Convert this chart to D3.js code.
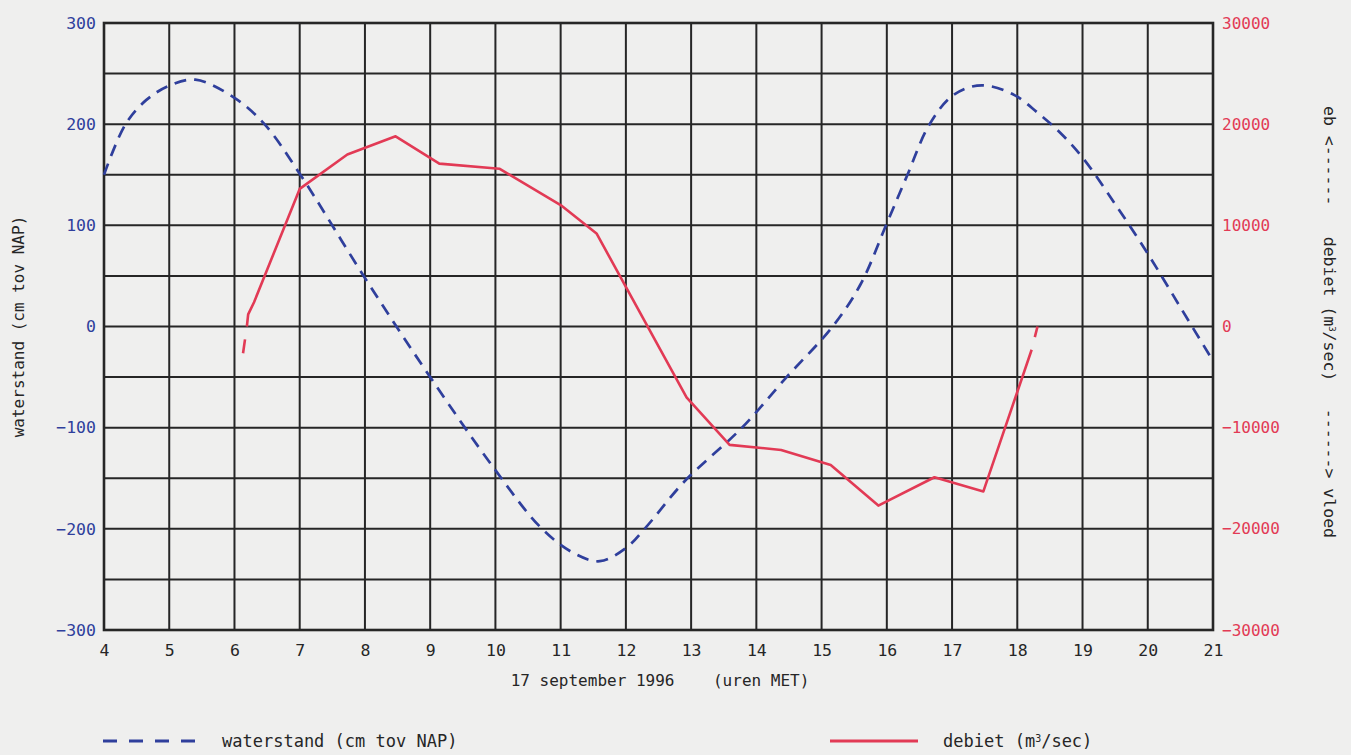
<!DOCTYPE html>
<html><head><meta charset="utf-8">
<script src="https://cdn.jsdelivr.net/npm/d3@7"></script>
<style>
html,body{margin:0;padding:0;background:#efefee;}
svg{display:block;font-family:"DejaVu Sans Mono",monospace;}
</style></head>
<body><svg id="c" width="1351" height="755"></svg>
<script>
// ---- data ----
const hourTicks = [4,5,6,7,8,9,10,11,12,13,14,15,16,17,18,19,20,21];
const leftTicks = [-300,-200,-100,0,100,200,300];
const rightTicks = [-30000,-20000,-10000,0,10000,20000,30000];
const gridLevels = [-250,-200,-150,-100,-50,0,50,100,150,200,250];
// waterstand (cm tov NAP): hour, value
const waterHours = [4,4.33,4.65,5,5.4,6,6.46,7,8,9,10,10.7,11.2,11.6,12,12.3,12.9,13.78,14.45,15.17,15.6,16,16.31,16.63,16.95,17.24,17.54,17.95,18.3,18.65,19,19.5,20,20.5,21];
const waterValues = [150,200,224,238,244,226,200,151,48,-50,-142,-199,-224,-232,-219,-199,-153,-100,-51,0,42,102,149,197,225,236,238,229,212,192,167,121,72,19,-34];
// debiet (m3/sec): hour, value
const flowHours = [6.19,6.21,6.3,7.0,7.73,8.47,9.14,10.06,11.0,11.55,12.93,13.59,14.38,15.14,15.87,16.73,17.48,18.22];
const flowValues = [0,1200,2400,13600,17000,18800,16100,15600,12000,9200,-7000,-11700,-12200,-13700,-17700,-14900,-16300,-2300];
const flowStartHours = [6.19,6.13];
const flowStartValues = [0,-2700];
const flowEndHours = [18.22,18.31];
const flowEndValues = [-2300,0];

const blue = "#2f3f9c", red = "#e23a55", ink = "#262626";
const svg = d3.select("#c");
const x = d3.scaleLinear().domain([4,21]).range([104,1213]);
const y = d3.scaleLinear().domain([-300,300]).range([630,23]);
const y2 = d3.scaleLinear().domain([-30000,30000]).range([630,23]);

// grid
const g = svg.append("g");
g.selectAll("line.v").data(hourTicks.slice(1,-1)).join("line")
  .attr("x1",d=>x(d)).attr("x2",d=>x(d)).attr("y1",y(300)).attr("y2",y(-300))
  .attr("stroke",ink).attr("stroke-width",2);
g.selectAll("line.h").data(gridLevels).join("line")
  .attr("y1",d=>y(d)).attr("y2",d=>y(d)).attr("x1",x(4)).attr("x2",x(21))
  .attr("stroke",ink).attr("stroke-width",2);
g.append("rect").attr("x",x(4)).attr("y",y(300)).attr("width",x(21)-x(4)).attr("height",y(-300)-y(300))
  .attr("fill","none").attr("stroke",ink).attr("stroke-width",2.6);

// axes
const ax = svg.append("g").attr("transform",`translate(0,${y(-300)})`)
  .call(d3.axisBottom(x).tickValues(hourTicks).tickSize(0).tickPadding(14).tickFormat(d3.format("d")));
ax.select(".domain").remove();
ax.selectAll("text").attr("fill",ink).style("font-size","16.5px").style("font-family","DejaVu Sans Mono");

const al = svg.append("g").attr("transform",`translate(${x(4)},0)`)
  .call(d3.axisLeft(y).tickValues(leftTicks).tickSize(0).tickPadding(8).tickFormat(d3.format("d")));
al.select(".domain").remove();
al.selectAll("text").attr("fill",blue).style("font-size","16.5px").style("font-family","DejaVu Sans Mono");

const ar = svg.append("g").attr("transform",`translate(${x(21)},0)`)
  .call(d3.axisRight(y2).tickValues(rightTicks).tickSize(0).tickPadding(9).tickFormat(d3.format("d")));
ar.select(".domain").remove();
ar.selectAll("text").attr("fill",red).style("font-size","16px").style("font-family","DejaVu Sans Mono");

// lines
const wData = waterHours.map((h,i)=>[h,waterValues[i]]);
const fData = flowHours.map((h,i)=>[h,flowValues[i]]);
const fs = flowStartHours.map((h,i)=>[h,flowStartValues[i]]);
const fe = flowEndHours.map((h,i)=>[h,flowEndValues[i]]);
const lw = d3.line().x(d=>x(d[0])).y(d=>y(d[1])).curve(d3.curveCatmullRom.alpha(0.5));
const lf = d3.line().x(d=>x(d[0])).y(d=>y2(d[1]));
svg.append("path").attr("d",lw(wData)).attr("fill","none").attr("stroke",blue)
  .attr("stroke-width",2.7).attr("stroke-dasharray","12,8");
svg.append("path").attr("d",lf(fData)).attr("fill","none").attr("stroke",red)
  .attr("stroke-width",2.6).attr("stroke-linejoin","round");
[fs,fe].forEach(seg=>{
  svg.append("path").attr("d",lf(seg)).attr("fill","none").attr("stroke",red)
    .attr("stroke-width",2.6).attr("stroke-dasharray","0,13,14,100");
});

// axis titles
svg.append("text").attr("transform",`translate(24,${y(0)}) rotate(-90)`)
  .attr("text-anchor","middle").attr("fill",ink).style("font-size","16px")
  .text("waterstand (cm tov NAP)");
svg.append("text").attr("x",660).attr("y",686).attr("text-anchor","middle")
  .attr("fill",ink).style("font-size","16px").attr("xml:space","preserve")
  .style("white-space","pre").text("17 september 1996    (uren MET)");

// right title pieces
const rt = svg.append("g").attr("transform","translate(1324,0)");
function rtext(yPos, anchor){
  return rt.append("text").attr("transform",`translate(0,${yPos}) rotate(90)`)
    .attr("text-anchor",anchor).attr("fill",ink).style("font-size","16.5px");
}
rtext(106,"start").text("eb <------");
const mid = rtext(309,"middle");
mid.append("tspan").text("debiet (m");
mid.append("tspan").attr("baseline-shift","super").style("font-size","9px").text("3");
mid.append("tspan").text("/sec)");
rtext(538,"end").text("------> vloed");

// legend
const legY = 741;
svg.append("line").attr("x1",103).attr("x2",200).attr("y1",legY).attr("y2",legY)
  .attr("stroke",blue).attr("stroke-width",3).attr("stroke-dasharray","14,12");
svg.append("text").attr("x",222).attr("y",legY+6).attr("fill",ink).style("font-size","17px")
  .text("waterstand (cm tov NAP)");
svg.append("line").attr("x1",830).attr("x2",918).attr("y1",legY).attr("y2",legY)
  .attr("stroke",red).attr("stroke-width",3);
const lt = svg.append("text").attr("x",943).attr("y",legY+6).attr("fill",ink).style("font-size","17px");
lt.append("tspan").text("debiet (m");
lt.append("tspan").attr("baseline-shift","super").style("font-size","10px").text("3");
lt.append("tspan").text("/sec)");
</script></body></html>
